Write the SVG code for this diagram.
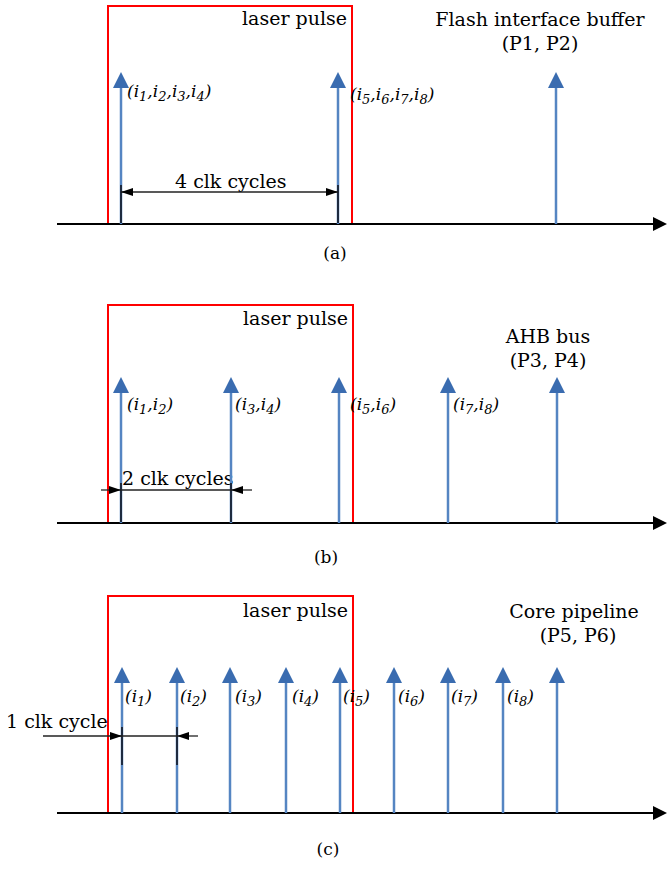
<svg xmlns="http://www.w3.org/2000/svg" width="667" height="869" viewBox="0 0 667 869">
<defs>
<marker id="bh" viewBox="0 0 16 16" markerWidth="16" markerHeight="16" refX="0" refY="8" orient="auto" markerUnits="userSpaceOnUse"><path d="M0,0 L16,8 L0,16 Z" fill="#3a6cb0"/></marker>
<marker id="ax" viewBox="0 0 14 14" markerWidth="14" markerHeight="14" refX="0" refY="7" orient="auto" markerUnits="userSpaceOnUse"><path d="M0,0 L14,7 L0,14 Z" fill="#000"/></marker>
<marker id="dh" viewBox="0 0 12 8" markerWidth="12" markerHeight="8" refX="12" refY="4" orient="auto" markerUnits="userSpaceOnUse"><path d="M0,0 L12,4 L0,8 Z" fill="#000"/></marker>
</defs>
<style>
.t{font-family:"DejaVu Serif","Liberation Serif",serif;font-size:19px;fill:#000}
.c{text-anchor:middle}
.it{font-family:"DejaVu Serif","Liberation Serif",serif;font-size:17px;font-style:italic;fill:#000}
.sb{font-size:13px}
.cap{font-size:17px}
.red{fill:none;stroke:#ff0000;stroke-width:2}
.axis{stroke:#000;stroke-width:2;marker-end:url(#ax)}
.sig{stroke:#5585c2;stroke-width:2.5;marker-end:url(#bh)}
.ext{stroke:#1e2b40;stroke-width:2}
.dim{stroke:#222;stroke-width:1.3}
</style>

<!-- Panel (a) -->
<g id="panel-a">
<rect id="pulse-a" class="red" x="108" y="6" width="244" height="218"/>
<text class="t" x="347" y="25" text-anchor="end">laser pulse</text>
<text class="t c" x="540" y="26">Flash interface buffer</text>
<text class="t c" x="540" y="50">(P1, P2)</text>
<text class="it" x="127" y="97">(i<tspan class="sb" dy="4">1</tspan><tspan dy="-4">,i</tspan><tspan class="sb" dy="4">2</tspan><tspan dy="-4">,i</tspan><tspan class="sb" dy="4">3</tspan><tspan dy="-4">,i</tspan><tspan class="sb" dy="4">4</tspan><tspan dy="-4">)</tspan></text>
<text class="it" x="350" y="100">(i<tspan class="sb" dy="4">5</tspan><tspan dy="-4">,i</tspan><tspan class="sb" dy="4">6</tspan><tspan dy="-4">,i</tspan><tspan class="sb" dy="4">7</tspan><tspan dy="-4">,i</tspan><tspan class="sb" dy="4">8</tspan><tspan dy="-4">)</tspan></text>
<text class="t" x="175" y="188">4 clk cycles</text>
<text class="t c cap" x="335" y="259">(a)</text>
</g>

<!-- Panel (b) -->
<g id="panel-b">
<rect id="pulse-b" class="red" x="108" y="305" width="245" height="218"/>
<text class="t" x="348" y="325" text-anchor="end">laser pulse</text>
<text class="t c" x="548" y="343">AHB bus</text>
<text class="t c" x="548" y="367">(P3, P4)</text>
<text class="it" x="127" y="410">(i<tspan class="sb" dy="4">1</tspan><tspan dy="-4">,i</tspan><tspan class="sb" dy="4">2</tspan><tspan dy="-4">)</tspan></text>
<text class="it" x="235" y="410">(i<tspan class="sb" dy="4">3</tspan><tspan dy="-4">,i</tspan><tspan class="sb" dy="4">4</tspan><tspan dy="-4">)</tspan></text>
<text class="it" x="350" y="410">(i<tspan class="sb" dy="4">5</tspan><tspan dy="-4">,i</tspan><tspan class="sb" dy="4">6</tspan><tspan dy="-4">)</tspan></text>
<text class="it" x="453" y="410">(i<tspan class="sb" dy="4">7</tspan><tspan dy="-4">,i</tspan><tspan class="sb" dy="4">8</tspan><tspan dy="-4">)</tspan></text>
<text class="t" x="122" y="485">2 clk cycles</text>
<text class="t c cap" x="326" y="563">(b)</text>
</g>

<!-- Panel (c) -->
<g id="panel-c">
<rect id="pulse-c" class="red" x="108" y="596" width="245" height="217"/>
<text class="t" x="348" y="617" text-anchor="end">laser pulse</text>
<text class="t c" x="574" y="618">Core pipeline</text>
<text class="t c" x="578" y="642">(P5, P6)</text>
<text class="it" x="125" y="702">(i<tspan class="sb" dy="4">1</tspan><tspan dy="-4">)</tspan></text>
<text class="it" x="180" y="702">(i<tspan class="sb" dy="4">2</tspan><tspan dy="-4">)</tspan></text>
<text class="it" x="235" y="702">(i<tspan class="sb" dy="4">3</tspan><tspan dy="-4">)</tspan></text>
<text class="it" x="292" y="702">(i<tspan class="sb" dy="4">4</tspan><tspan dy="-4">)</tspan></text>
<text class="it" x="343" y="702">(i<tspan class="sb" dy="4">5</tspan><tspan dy="-4">)</tspan></text>
<text class="it" x="398" y="702">(i<tspan class="sb" dy="4">6</tspan><tspan dy="-4">)</tspan></text>
<text class="it" x="451" y="702">(i<tspan class="sb" dy="4">7</tspan><tspan dy="-4">)</tspan></text>
<text class="it" x="507" y="702">(i<tspan class="sb" dy="4">8</tspan><tspan dy="-4">)</tspan></text>
<text class="t" x="6" y="728">1 clk cycle</text>
<text class="t c cap" x="328" y="855">(c)</text>
</g>

<g id="connectors">
<!-- axes -->
<line class="axis" x1="57" y1="224" x2="653" y2="224"/>
<line class="axis" x1="57" y1="523" x2="653" y2="523"/>
<line class="axis" x1="57" y1="813" x2="653" y2="813"/>
<!-- (a) signals -->
<line class="sig" x1="121" y1="224" x2="121" y2="88"/>
<line class="sig" x1="338" y1="224" x2="338" y2="88"/>
<line class="sig" x1="556" y1="224" x2="556" y2="88"/>
<!-- (b) signals -->
<line class="sig" x1="121" y1="523" x2="121" y2="393"/>
<line class="sig" x1="231" y1="523" x2="231" y2="393"/>
<line class="sig" x1="339" y1="523" x2="339" y2="393"/>
<line class="sig" x1="448" y1="523" x2="448" y2="393"/>
<line class="sig" x1="557" y1="523" x2="557" y2="393"/>
<!-- (c) signals -->
<line class="sig" x1="122" y1="813" x2="122" y2="683"/>
<line class="sig" x1="177" y1="813" x2="177" y2="683"/>
<line class="sig" x1="230" y1="813" x2="230" y2="683"/>
<line class="sig" x1="286" y1="813" x2="286" y2="683"/>
<line class="sig" x1="340" y1="813" x2="340" y2="683"/>
<line class="sig" x1="394" y1="813" x2="394" y2="683"/>
<line class="sig" x1="448" y1="813" x2="448" y2="683"/>
<line class="sig" x1="503" y1="813" x2="503" y2="683"/>
<line class="sig" x1="557" y1="813" x2="557" y2="683"/>
<!-- (a) dimension -->
<line class="ext" x1="121" y1="185" x2="121" y2="223"/>
<line class="ext" x1="338" y1="185" x2="338" y2="223"/>
<line class="dim" x1="230" y1="192" x2="121" y2="192" marker-end="url(#dh)"/>
<line class="dim" x1="230" y1="192" x2="338" y2="192" marker-end="url(#dh)"/>
<!-- (b) dimension -->
<line class="ext" x1="121" y1="483" x2="121" y2="522"/>
<line class="ext" x1="231" y1="483" x2="231" y2="522"/>
<line class="dim" x1="101" y1="490" x2="121" y2="490" marker-end="url(#dh)"/>
<line class="dim" x1="121" y1="490" x2="231" y2="490"/>
<line class="dim" x1="252" y1="490" x2="231" y2="490" marker-end="url(#dh)"/>
<!-- (c) dimension -->
<line class="ext" x1="122" y1="727" x2="122" y2="765"/>
<line class="ext" x1="177" y1="727" x2="177" y2="765"/>
<line class="dim" x1="43" y1="736" x2="122" y2="736" marker-end="url(#dh)"/>
<line class="dim" x1="122" y1="736" x2="177" y2="736"/>
<line class="dim" x1="198" y1="736" x2="177" y2="736" marker-end="url(#dh)"/>
</g>
</svg>
